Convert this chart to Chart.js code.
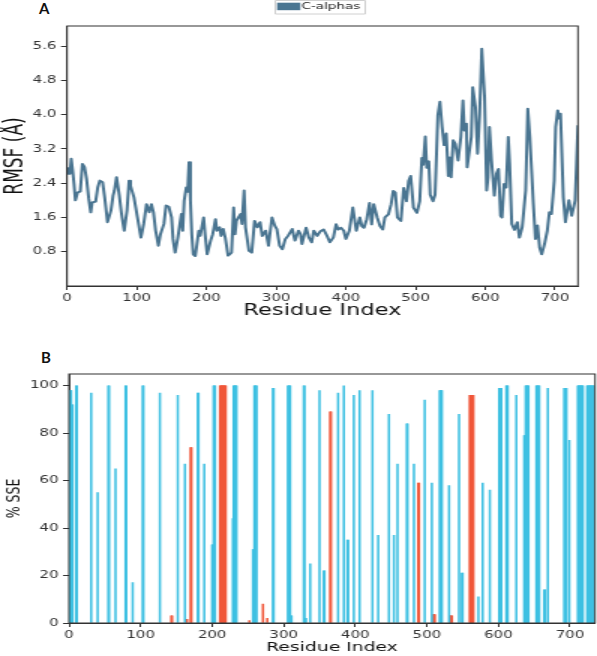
<!DOCTYPE html>
<html>
<head>
<meta charset="utf-8">
<script src="https://cdn.jsdelivr.net/npm/chart.js@4.4.1/dist/chart.umd.min.js"></script>
<style>
    html, body { margin: 0; padding: 0; background: #fff; }
    body { width: 597px; height: 656px; position: relative; overflow: hidden; }
    /* the reference figure is stretched sideways, so draw narrow and scale up */
    .wrap { position: absolute; left: 0; transform: scaleX(1.5); transform-origin: 0 0; }
    .panel { position: absolute; font: bold 15px Lato, "Liberation Sans", sans-serif; color: #111; line-height: 15px; }
</style>
</head>
<body>
<div class="panel" style="left:39px;top:1px">A</div>
<div class="panel" style="left:41px;top:350px">B</div>
<div class="wrap" style="top:0"><canvas id="rmsfChart" width="398" height="330"></canvas></div>
<div class="wrap" style="top:330px"><canvas id="sseChart" width="398" height="326"></canvas></div>
<script>
// tick labels
const xTicks = [0, 100, 200, 300, 400, 500, 600, 700];
const rmsfTicks = [0.8, 1.6, 2.4, 3.2, 4.0, 4.8, 5.6];
const sseTicks = [0, 20, 40, 60, 80, 100];

// panel A: C-alpha RMSF
const rmsfResidue = [0, 2, 4, 6, 8, 10, 12, 15, 19, 22, 25, 28, 31, 34, 36, 41, 44, 47, 51, 54,
    58, 63, 66, 68, 71, 75, 78, 82, 86, 89, 91, 96, 101, 106, 110, 114, 118, 121, 124, 127,
    131, 134, 139, 142, 146, 150, 152, 155, 159, 164, 166, 168, 171, 173, 175, 177, 179, 181, 184, 189,
    191, 196, 198, 201, 206, 209, 213, 215, 219, 221, 224, 227, 231, 236, 239, 241, 243, 246, 249, 251,
    254, 256, 261, 265, 269, 273, 277, 280, 285, 289, 294, 298, 301, 305, 309, 313, 317, 323, 327, 332,
    335, 337, 343, 347, 351, 354, 359, 363, 368, 373, 377, 382, 386, 389, 393, 397, 400, 405, 410, 415,
    420, 423, 426, 430, 434, 437, 440, 442, 445, 449, 453, 456, 461, 465, 468, 471, 474, 479, 483, 487,
    490, 493, 497, 502, 506, 509, 511, 514, 516, 519, 521, 525, 528, 532, 535, 538, 541, 544, 547, 549,
    551, 554, 557, 561, 565, 568, 570, 573, 574, 578, 580, 582, 586, 589, 592, 595, 599, 602, 604, 606,
    609, 613, 616, 619, 622, 624, 627, 630, 633, 635, 638, 642, 646, 649, 653, 658, 661, 664, 669, 672,
    675, 678, 681, 685, 689, 692, 695, 699, 701, 704, 706, 708, 712, 715, 720, 724, 729, 731, 733];
const rmsfValue = [2.60, 2.75, 2.62, 2.97, 2.70, 2.38, 2.00, 2.18, 2.21, 2.85, 2.78, 2.50, 2.05, 1.72, 1.95, 1.97, 2.30, 2.46, 2.42, 2.07,
    1.49, 1.76, 2.11, 2.23, 2.54, 2.11, 1.70, 1.29, 1.76, 2.46, 2.34, 2.07, 1.60, 1.13, 1.45, 1.91, 1.72, 1.91, 1.72, 1.30,
    0.94, 1.21, 1.45, 1.88, 1.85, 1.60, 1.10, 0.78, 1.13, 1.68, 1.29, 1.99, 2.30, 2.20, 2.89, 1.99, 1.20, 0.74, 0.70, 1.29,
    1.17, 1.60, 1.21, 0.74, 1.06, 1.21, 1.56, 1.29, 1.37, 1.17, 1.33, 1.13, 0.71, 0.78, 1.83, 1.21, 1.52, 1.60, 1.68, 1.45,
    2.23, 1.37, 0.82, 0.78, 1.52, 1.37, 1.49, 1.17, 1.29, 0.94, 1.60, 1.41, 1.33, 0.94, 0.86, 1.09, 1.17, 1.33, 1.06, 1.29,
    1.21, 0.98, 1.36, 1.13, 1.02, 1.29, 1.17, 1.27, 1.32, 1.17, 1.02, 1.13, 1.44, 1.32, 1.36, 1.29, 1.10, 1.29, 1.83, 1.29,
    1.60, 1.40, 1.36, 1.56, 1.94, 1.44, 1.91, 1.79, 1.60, 1.40, 1.32, 1.60, 1.67, 1.91, 2.22, 2.18, 1.60, 1.52, 2.29, 1.98,
    2.45, 2.57, 1.83, 1.71, 1.98, 2.99, 2.83, 3.49, 2.76, 2.91, 2.13, 1.98, 2.13, 3.99, 4.30, 3.72, 3.29, 3.56, 2.57, 3.00,
    2.54, 3.40, 3.32, 2.93, 3.48, 4.33, 3.63, 3.79, 2.77, 3.24, 3.48, 4.64, 4.17, 3.09, 4.02, 5.54, 4.41, 2.23, 2.54, 3.71,
    2.93, 2.11, 2.62, 2.73, 1.64, 1.60, 2.38, 2.30, 3.48, 2.86, 1.45, 1.31, 1.49, 1.13, 1.37, 2.23, 4.14, 3.48, 1.92, 1.10,
    1.41, 0.90, 0.74, 0.98, 1.29, 1.72, 1.68, 2.46, 3.71, 4.10, 3.91, 4.02, 2.07, 1.49, 2.00, 1.64, 2.00, 2.86, 3.75];

// panel B: % SSE per residue stretch (start, end, percent)
const strandStart = [1, 4, 10, 31, 40, 55, 65, 79, 89, 103, 127, 152, 162, 180, 189, 200, 202, 229, 230, 257,
    259, 285, 306, 310, 328, 330, 337, 350, 356, 376, 384, 389, 398, 406, 424, 432, 447, 454, 459, 472,
    482, 497, 507, 518, 531, 545, 549, 572, 578, 588, 601, 611, 625, 636, 638, 653, 664, 669, 692, 699,
    711, 724];
const strandEnd = [3, 5, 11, 31, 40, 56, 65, 80, 89, 104, 127, 152, 162, 181, 189, 201, 204, 229, 234, 258,
    262, 286, 309, 311, 329, 331, 337, 350, 357, 376, 384, 390, 398, 406, 424, 432, 447, 454, 459, 473,
    482, 497, 507, 521, 531, 545, 550, 572, 578, 588, 604, 613, 625, 637, 642, 657, 665, 669, 695, 699,
    718, 733];
const strandPct = [98, 92, 100, 97, 55, 100, 65, 100, 17, 100, 97, 96, 67, 97, 67, 33, 100, 44, 100, 31,
    100, 99, 100, 3, 100, 2, 25, 98, 22, 97, 100, 35, 96, 98, 98, 37, 88, 37, 67, 84,
    67, 94, 59, 98, 58, 88, 21, 11, 59, 56, 99, 100, 96, 79, 100, 100, 14, 99, 99, 77,
    100, 100];
const helixStart = [143, 165, 170, 211, 252, 271, 277, 365, 488, 509, 533, 560];
const helixEnd = [144, 165, 171, 219, 252, 271, 277, 366, 489, 511, 535, 565];
const helixPct = [3, 1.5, 74, 100, 1, 8, 2, 89, 59, 3.5, 3, 96];

const lineColor = '#4a7591';
const strandColor = '#3ec0e2';
const helixColor = '#f0573a';
const tickFont = { family: '"DejaVu Sans", sans-serif', size: 10 };

function segmentsToPoints(starts, ends, pcts) {
    const points = [];
    starts.forEach((s, i) => {
        for (let r = s; r <= ends[i]; r++) {
            points.push({ x: r, y: pcts[i] });
        }
    });
    return points;
}

// draws the top and right spines so the plot is boxed like the original
const boxFrame = {
    id: 'boxFrame',
    afterDatasetsDraw(chart) {
        const { ctx, chartArea: a } = chart;
        ctx.save();
        ctx.strokeStyle = '#333';
        ctx.lineWidth = 1;
        ctx.strokeRect(a.left, a.top, a.right - a.left, a.bottom - a.top);
        ctx.restore();
    }
};

// small framed legend above panel A
const topLegend = {
    id: 'topLegend',
    afterDraw(chart) {
        const ctx = chart.ctx;
        ctx.save();
        ctx.fillStyle = '#fff';
        ctx.strokeStyle = '#d0d0d0';
        ctx.lineWidth = 1;
        ctx.beginPath();
        ctx.rect(183.5, 0.5, 60, 13.5);
        ctx.fill();
        ctx.stroke();
        ctx.fillStyle = lineColor;
        ctx.fillRect(184.7, 2.7, 15.5, 7.5);
        ctx.fillStyle = '#222';
        ctx.font = '9px "DejaVu Sans", sans-serif';
        ctx.textBaseline = 'middle';
        ctx.fillText(chart.data.datasets[0].label, 201, 7);
        ctx.restore();
    }
};

function xScale(max, titleSize, titlePad, height) {
    return {
        type: 'linear',
        min: 0,
        max: max,
        offset: false,
        afterBuildTicks: scale => { scale.ticks = xTicks.map(v => ({ value: v })); },
        afterFit: scale => { scale.height = height; },
        ticks: { font: tickFont, color: '#333', padding: 2, maxRotation: 0 },
        grid: { display: true, drawOnChartArea: false, offset: false, tickLength: 4, tickColor: '#333' },
        border: { display: true, color: '#333', width: 1 },
        title: { display: true, text: 'Residue Index', color: '#111',
                 font: { family: '"DejaVu Sans", sans-serif', size: titleSize },
                 padding: { top: 0, bottom: titlePad } }
    };
}

function yScale(max, tickValues, label, titleSize, titlePad, width, fmt) {
    return {
        min: 0,
        max: max,
        afterBuildTicks: scale => { scale.ticks = tickValues.map(v => ({ value: v })); },
        afterFit: scale => { scale.width = width; },
        ticks: { font: tickFont, color: '#333', padding: 3, callback: fmt },
        grid: { display: true, drawOnChartArea: false, tickLength: 4, tickColor: '#333' },
        border: { display: true, color: '#333', width: 1 },
        title: { display: true, text: label, color: '#111',
                 font: { family: '"DejaVu Sans", sans-serif', size: titleSize },
                 padding: { top: titlePad, bottom: 0 } }
    };
}

document.addEventListener('DOMContentLoaded', function () {
    const rmsfPoints = rmsfResidue.map((r, i) => ({ x: r, y: rmsfValue[i] }));

    new Chart(document.getElementById('rmsfChart'), {
        type: 'line',
        data: {
            datasets: [{
                label: 'C-alphas',
                data: rmsfPoints,
                borderColor: lineColor,
                borderWidth: 2,
                pointRadius: 0,
                tension: 0,
                borderJoinStyle: 'round',
                fill: false
            }]
        },
        options: {
            responsive: false,
            animation: false,
            layout: { padding: { left: 0, right: 12.7, top: 26, bottom: 0 } },
            scales: {
                x: xScale(733, 15, 10, 44),
                y: yScale(6.07, rmsfTicks, 'RMSF (Å)', 17, 0.1, 44.7, v => v.toFixed(1))
            },
            plugins: { legend: { display: false }, tooltip: { enabled: false } }
        },
        plugins: [boxFrame, topLegend]
    });

    new Chart(document.getElementById('sseChart'), {
        type: 'bar',
        data: {
            datasets: [
                { label: 'Strand', data: segmentsToPoints(strandStart, strandEnd, strandPct),
                  backgroundColor: strandColor, barThickness: 0.9, grouped: false },
                { label: 'Helix', data: segmentsToPoints(helixStart, helixEnd, helixPct),
                  backgroundColor: helixColor, barThickness: 0.9, grouped: false }
            ]
        },
        options: {
            responsive: false,
            animation: false,
            layout: { padding: { left: 0, right: 1.3, top: 44, bottom: 0 } },
            scales: {
                x: xScale(735, 12.5, 0.5, 33),
                y: yScale(105, sseTicks, '% SSE', 12.5, 2.5, 46, v => String(v))
            },
            plugins: { legend: { display: false }, tooltip: { enabled: false } }
        },
        plugins: [boxFrame]
    });
});
</script>
</body>
</html>
